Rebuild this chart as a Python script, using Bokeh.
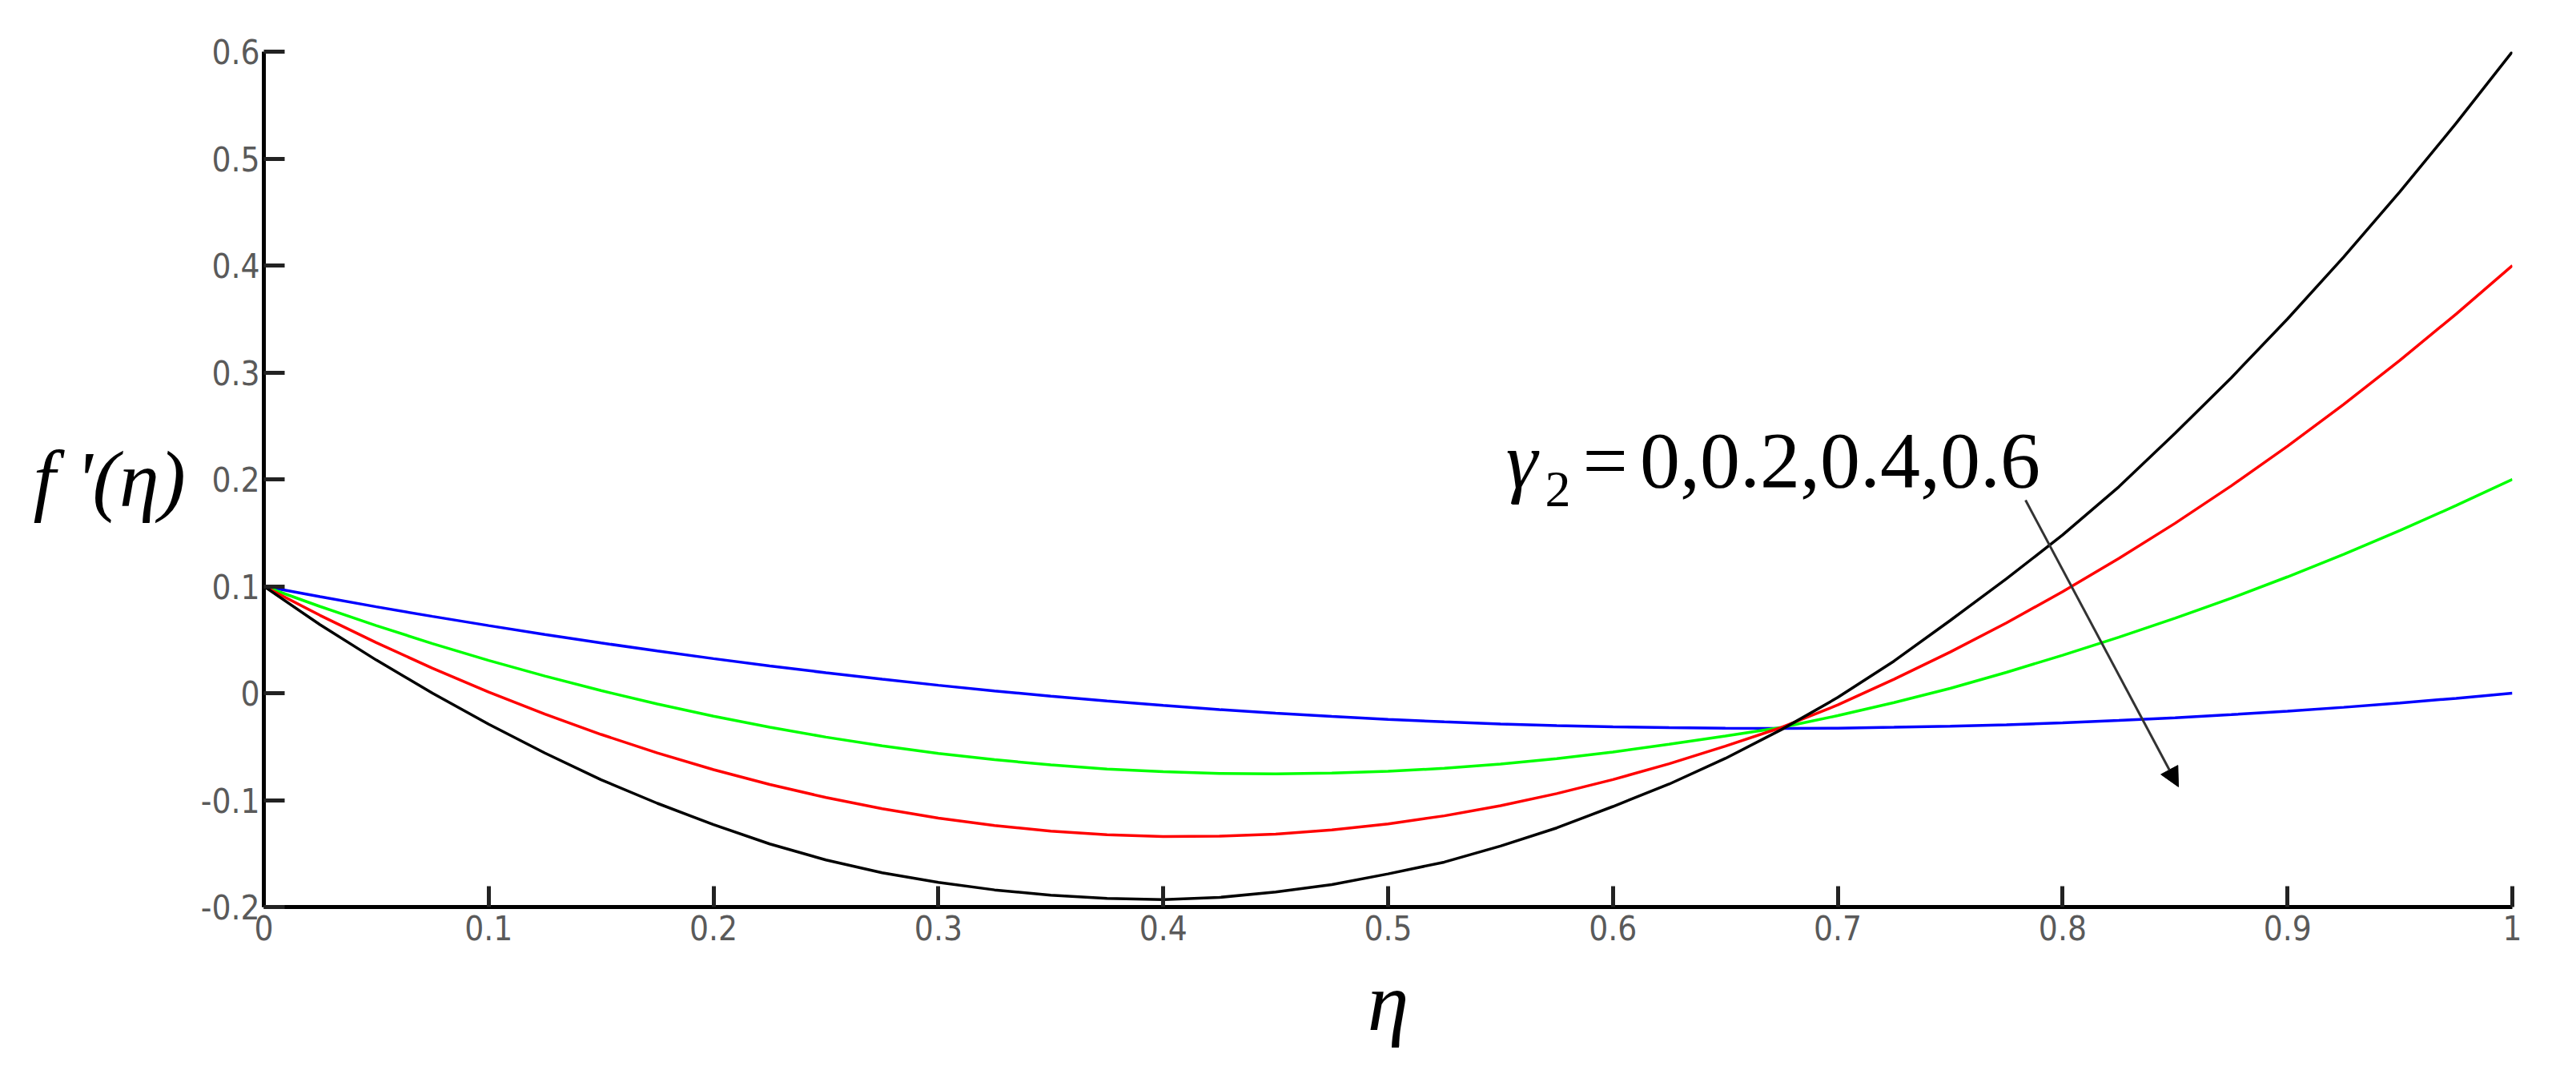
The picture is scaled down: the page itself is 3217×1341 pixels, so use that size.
from bokeh.plotting import figure
from bokeh.models import Label, Arrow, NormalHead, Range1d, FixedTicker
from bokeh.embed import file_html
from bokeh.resources import INLINE

# ---- data (f'(eta) for gamma_2 = 0, 0.2, 0.4, 0.6) ----
eta = [0.0, 0.025, 0.05, 0.075, 0.1, 0.125, 0.15, 0.175, 0.2, 0.225, 0.25, 0.275,
       0.3, 0.325, 0.35, 0.375, 0.4, 0.425, 0.45, 0.475, 0.5, 0.525, 0.55, 0.575,
       0.6, 0.625, 0.65, 0.675, 0.7, 0.725, 0.75, 0.775, 0.8, 0.825, 0.85, 0.875,
       0.9, 0.925, 0.95, 0.975, 1.0]
gamma0_blue = [0.1, 0.0902, 0.0808, 0.0718, 0.0632, 0.0549, 0.0470, 0.0395, 0.0323,
               0.0255, 0.0191, 0.0131, 0.0074, 0.0021, -0.0028, -0.0073, -0.0115,
               -0.0153, -0.0188, -0.0218, -0.0245, -0.0268, -0.0288, -0.0303,
               -0.0315, -0.0323, -0.0328, -0.0330, -0.0327, -0.0319, -0.0309,
               -0.0295, -0.0277, -0.0255, -0.0230, -0.0201, -0.0168, -0.0132,
               -0.0092, -0.0048, 0.0]
gamma02_green = [0.1, 0.0811, 0.0632, 0.0464, 0.0306, 0.0160, 0.0024, -0.0101,
                 -0.0215, -0.0318, -0.0411, -0.0492, -0.0563, -0.0622, -0.0671,
                 -0.0709, -0.0735, -0.0751, -0.0755, -0.0748, -0.0731, -0.0702,
                 -0.0663, -0.0612, -0.0551, -0.0478, -0.0400, -0.0320, -0.0210,
                 -0.0088, 0.0045, 0.0195, 0.0355, 0.0523, 0.0701, 0.0888, 0.1088,
                 0.1298, 0.1521, 0.1755, 0.2]
gamma04_red = [0.1, 0.0728, 0.0473, 0.0233, 0.0010, -0.0196, -0.0386, -0.0559,
               -0.0715, -0.0854, -0.0976, -0.1081, -0.1168, -0.1238, -0.1290,
               -0.1324, -0.1340, -0.1338, -0.1318, -0.1279, -0.1223, -0.1147,
               -0.1053, -0.0939, -0.0808, -0.0660, -0.0495, -0.0320, -0.0110,
               0.0130, 0.0385, 0.0657, 0.0950, 0.1260, 0.1589, 0.1939, 0.2310,
               0.2701, 0.3113, 0.3546, 0.4]
gamma06_black = [0.1, 0.064, 0.031, 0.000, -0.029, -0.056, -0.081, -0.103, -0.123,
                 -0.141, -0.156, -0.168, -0.177, -0.184, -0.189, -0.192, -0.193,
                 -0.191, -0.186, -0.179, -0.169, -0.158, -0.143, -0.126, -0.106,
                 -0.085, -0.061, -0.034, -0.004, 0.030, 0.068, 0.107, 0.148, 0.193,
                 0.243, 0.295, 0.350, 0.408, 0.469, 0.533, 0.6]

x_ticks = [0, 0.1, 0.2, 0.3, 0.4, 0.5, 0.6, 0.7, 0.8, 0.9, 1.0]
x_tick_labels = ["0", "0.1", "0.2", "0.3", "0.4", "0.5", "0.6", "0.7", "0.8", "0.9", "1"]
y_ticks = [-0.2, -0.1, 0, 0.1, 0.2, 0.3, 0.4, 0.5, 0.6]
y_tick_labels = ["-0.2", "-0.1", "0", "0.1", "0.2", "0.3", "0.4", "0.5", "0.6"]

annotation_gamma = "\u03b3"
annotation_sub = "2"
annotation_values = "0,0.2,0.4,0.6"
x_title = "\u03b7"
y_title = "f '(\u03b7)"

# ---- figure ----
p = figure(width=3200, height=1325, output_backend="svg", toolbar_location=None,
           x_range=Range1d(0, 1), y_range=Range1d(-0.2, 0.6),
           x_axis_location="below", y_axis_location="left")
p.frame_width = 2808
p.frame_height = 1068
p.min_border_left = 329
p.min_border_right = 63
p.min_border_top = 64
p.min_border_bottom = 193
p.outline_line_color = None
p.xgrid.visible = False
p.ygrid.visible = False
p.background_fill_color = "white"
p.border_fill_color = "white"

tick_font = "DejaVu Sans Condensed, Roboto"
for ax, ticks, labels in ((p.xaxis[0], x_ticks, x_tick_labels),
                          (p.yaxis[0], y_ticks, y_tick_labels)):
    ax.ticker = FixedTicker(ticks=ticks)
    ax.major_label_overrides = {t: l for t, l in zip(ticks, labels)}
    ax.axis_line_width = 5
    ax.axis_line_color = "black"
    ax.major_tick_in = 26
    ax.major_tick_out = 0
    ax.major_tick_line_width = 5
    ax.major_tick_line_color = "#222222"
    ax.minor_tick_line_color = None
    ax.major_label_text_font = tick_font
    ax.major_label_text_font_size = "42px"
    ax.major_label_text_color = "#5a5a5a"
    ax.axis_label_text_font = "Liberation Serif"
    ax.axis_label_text_font_style = "italic"
    ax.axis_label_text_color = "black"
p.xaxis[0].major_label_standoff = 10
p.yaxis[0].major_label_standoff = 5

p.xaxis[0].axis_label = x_title
p.xaxis[0].axis_label_text_font_size = "104px"
p.xaxis[0].axis_label_standoff = 16

p.yaxis[0].axis_label = y_title
p.yaxis[0].axis_label_orientation = "horizontal"
p.yaxis[0].axis_label_text_font_size = "100px"
p.yaxis[0].axis_label_standoff = 16

p.line(eta, gamma0_blue, line_color="#0000ff", line_width=3.5)
p.line(eta, gamma02_green, line_color="#00ff00", line_width=3.5)
p.line(eta, gamma04_red, line_color="#ff0000", line_width=3.5)
p.line(eta, gamma06_black, line_color="#000000", line_width=3.5)

# arrow indicating increasing gamma_2
p.add_layout(Arrow(x_start=0.7835, y_start=0.1805, x_end=0.8515, y_end=-0.0876,
                   line_color="#333333", line_width=3,
                   end=NormalHead(size=24, fill_color="black", line_color="black",
                                  line_width=1)))

serif = "Liberation Serif"
p.add_layout(Label(x=0.5524, y=0.2172, text=annotation_gamma, text_font=serif,
                   text_font_style="italic", text_font_size="100px",
                   text_baseline="alphabetic", text_align="left", text_color="black"))
p.add_layout(Label(x=0.5698, y=0.191, text=annotation_sub, text_font=serif,
                   text_font_size="64px", text_baseline="alphabetic",
                   text_align="left", text_color="black"))
p.add_layout(Label(x=0.5865, y=0.2172, text="=", text_font=serif,
                   text_font_size="100px", text_baseline="alphabetic",
                   text_align="left", text_color="black"))
p.add_layout(Label(x=0.6120, y=0.2172, text=annotation_values, text_font=serif,
                   text_font_size="100px", text_baseline="alphabetic",
                   text_align="left", text_color="black"))

open("out.html", "w").write(file_html(p, INLINE))
